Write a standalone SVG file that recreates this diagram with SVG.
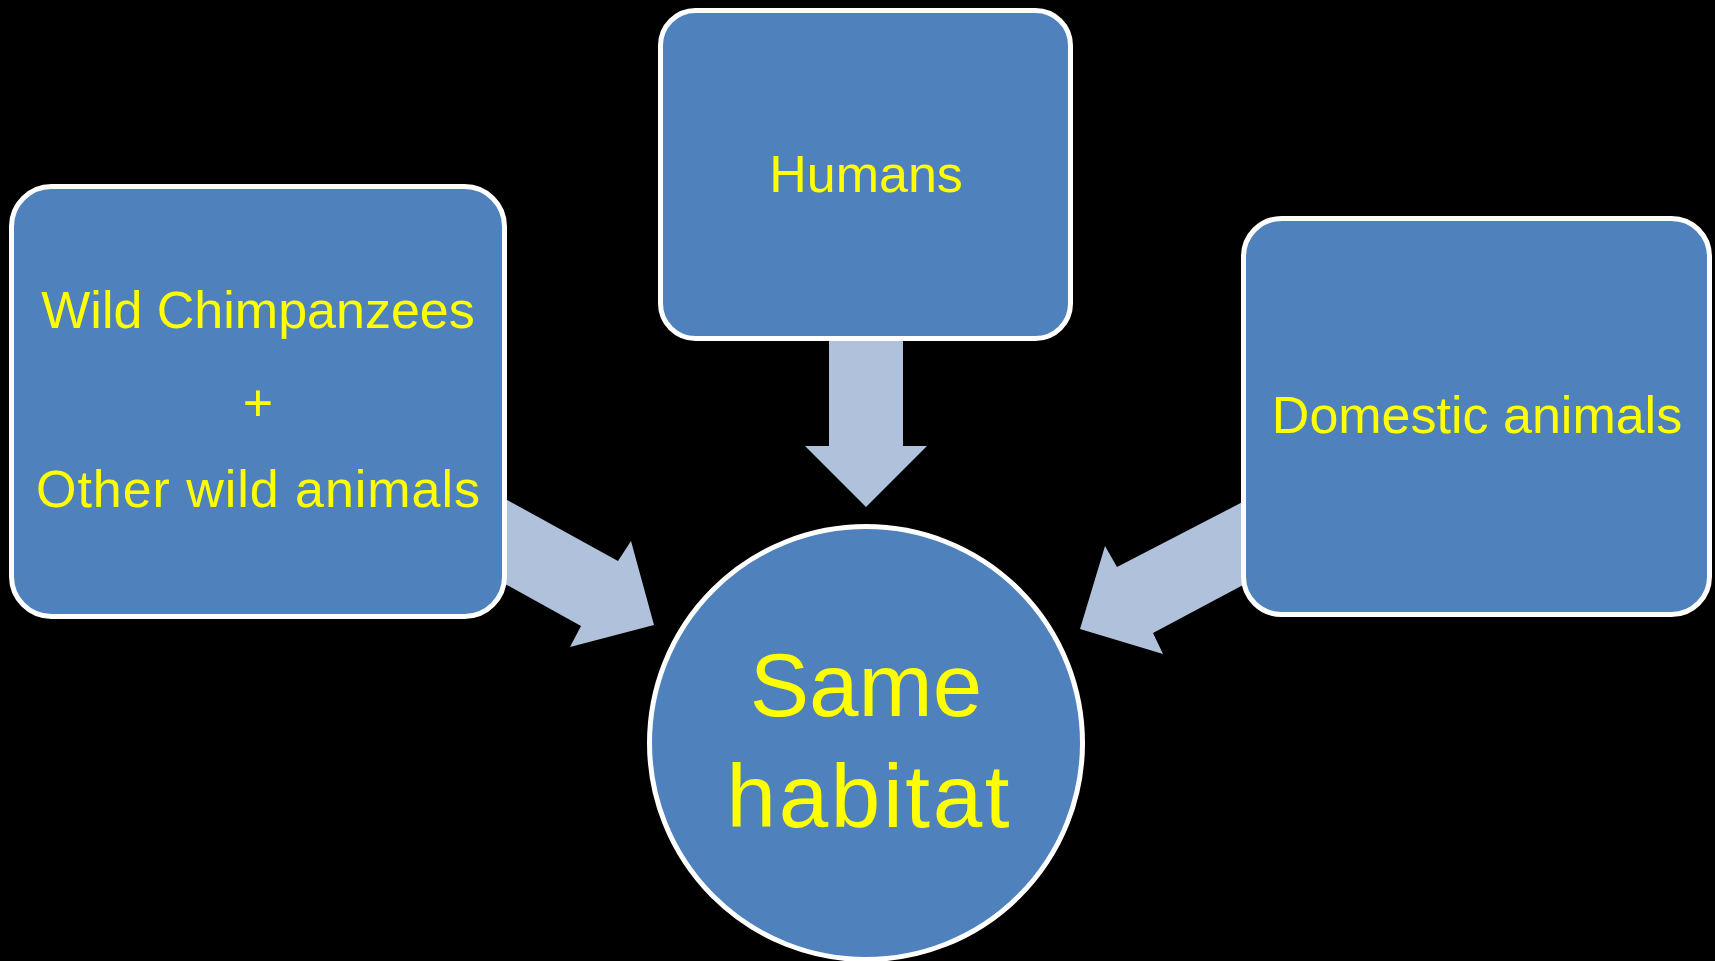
<svg xmlns="http://www.w3.org/2000/svg" width="1715" height="961" viewBox="0 0 1715 961">
<style>
.node{fill:#4F81BD;stroke:#FFFFFF;stroke-width:5}
.arrow{fill:#B0C1DC;stroke:none}
.lbl{fill:#FFFF00;font-family:"Liberation Sans",Arial,sans-serif;font-size:52px;text-anchor:middle}
.big{font-size:89px}
</style>
<rect width="1715" height="961" fill="#000000"/>
<g id="connectors">
<polygon class="arrow" points="480,485 618,561 631,541 654,625 570,647 581,626 480,570"/>
<polygon class="arrow" points="829,320 903,320 903,446 927,446 866,507 805,446 829,446"/>
<polygon class="arrow" points="1260,493 1117,567 1105,546 1080,629 1163,654 1153,633 1260,576"/>
</g>
<g id="node-wild">
<rect class="node" x="11.5" y="186.5" width="493" height="430" rx="40"/>
<text class="lbl" x="258" y="328">Wild Chimpanzees</text>
<text class="lbl" x="258" y="421">+</text>
<text class="lbl" x="258" y="507" textLength="444">Other wild animals</text>
</g>
<g id="node-humans">
<rect class="node" x="660.5" y="10.5" width="410" height="328" rx="35"/>
<text class="lbl" x="866" y="192">Humans</text>
</g>
<g id="node-domestic">
<rect class="node" x="1243.5" y="218.5" width="466" height="396" rx="38"/>
<text class="lbl" x="1477" y="433">Domestic animals</text>
</g>
<g id="node-habitat">
<circle class="node" cx="866" cy="743" r="216.5"/>
<text class="lbl big" x="866" y="716">Same</text>
<text class="lbl big" x="868" y="827" textLength="283">habitat</text>
</g>
</svg>
